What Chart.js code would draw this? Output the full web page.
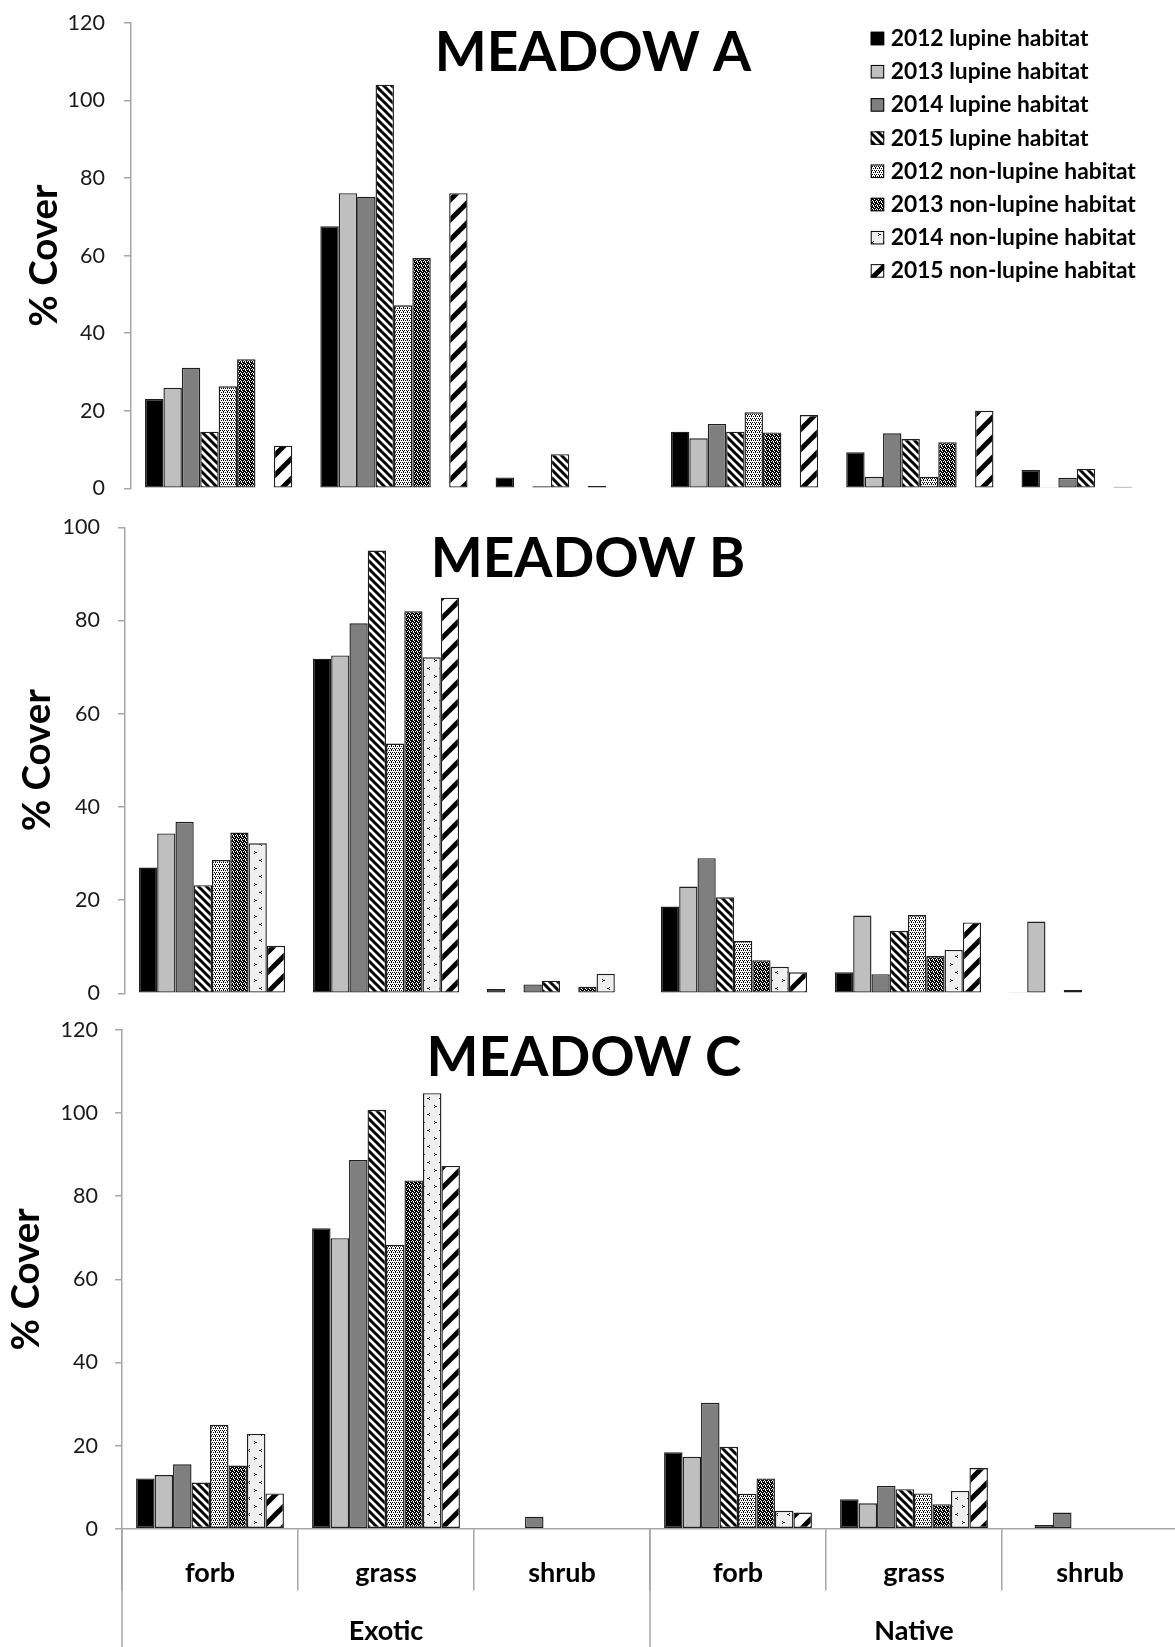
<!DOCTYPE html>
<html>
<head>
<meta charset="utf-8">
<title>Plant cover by meadow</title>
<script src="https://cdn.jsdelivr.net/npm/chart.js@4/dist/chart.umd.min.js"></script>
<style>
  html, body { margin: 0; padding: 0; background: #fff; overflow: hidden; }
  #wrap { position: relative; width: 1175px; height: 1647px; overflow: hidden; background: #fff; }
  #wrap canvas { position: absolute; left: 0; }
</style>
</head>
<body>
<div id="wrap">
  <canvas id="meadowA" width="1190" height="532" style="top:-10px"></canvas>
  <canvas id="meadowB" width="1190" height="546" style="top:480px"></canvas>
  <canvas id="meadowC" width="1190" height="657" style="top:990px"></canvas>
</div>
<script>
// ---- data -----------------------------------------------------------
const categories = ['forb', 'grass', 'shrub', 'forb', 'grass', 'shrub'];
const groups = ['Exotic', 'Native'];
const seriesLabels = [
  '2012 lupine habitat', '2013 lupine habitat', '2014 lupine habitat', '2015 lupine habitat',
  '2012 non-lupine habitat', '2013 non-lupine habitat', '2014 non-lupine habitat', '2015 non-lupine habitat'
];
const yTicksA = [0, 20, 40, 60, 80, 100, 120];
const yTicksB = [0, 20, 40, 60, 80, 100];
const yTicksC = [0, 20, 40, 60, 80, 100, 120];

// Meadow A (% cover)
const aLupine2012 = [23.0, 67.6, 2.8, 14.6, 9.3, 4.7];
const aLupine2013 = [25.9, 76.1, 0, 12.9, 3.0, 0.3];
const aLupine2014 = [31.1, 75.2, 0.5, 16.6, 14.2, 2.7];
const aLupine2015 = [14.6, 104.1, 8.8, 14.6, 12.7, 5.0];
const aNon2012 = [26.3, 47.2, 0, 19.6, 3.0, 0];
const aNon2013 = [33.3, 59.4, 0.6, 14.4, 11.9, 0.4];
const aNon2014 = [null, null, null, null, null, null];
const aNon2015 = [11.0, 76.1, 0, 18.9, 20.0, 0];

// Meadow B (% cover)
const bLupine2012 = [27.0, 71.8, 0.9, 18.6, 4.5, 0.1];
const bLupine2013 = [34.3, 72.5, 0, 22.9, 16.7, 15.4];
const bLupine2014 = [36.8, 79.4, 1.9, 29.0, 4.1, 0];
const bLupine2015 = [23.2, 95.0, 2.7, 20.6, 13.4, 0.7];
const bNon2012 = [28.6, 53.6, 0, 11.2, 16.8, 0];
const bNon2013 = [34.5, 82.0, 1.4, 7.1, 8.0, 0];
const bNon2014 = [32.2, 72.1, 4.2, 5.7, 9.3, 0];
const bNon2015 = [10.2, 84.9, 0, 4.5, 15.2, 0];

// Meadow C (% cover)
const cLupine2012 = [12.1, 72.3, 0, 18.4, 7.1, 0];
const cLupine2013 = [12.9, 69.9, 0, 17.3, 6.1, 0.9];
const cLupine2014 = [15.5, 88.7, 2.9, 30.3, 10.3, 3.9];
const cLupine2015 = [11.1, 100.8, 0, 19.7, 9.5, 0];
const cNon2012 = [25.0, 68.3, 0, 8.4, 8.5, 0];
const cNon2013 = [15.2, 83.8, 0, 12.1, 5.9, 0];
const cNon2014 = [22.8, 104.8, 0, 4.3, 9.1, 0];
const cNon2015 = [8.5, 87.3, 0, 3.9, 14.6, 0];

// ---- fills ----------------------------------------------------------
const AXIS_GREY = '#a6a6a6';
const FONT = 'Lato, "Open Sans", sans-serif';

function tile(w, h, paint) {
  const c = document.createElement('canvas');
  c.width = w; c.height = h;
  const g = c.getContext('2d');
  paint(g, w, h);
  return g.createPattern(c, 'repeat');
}
function pixelTile(rows, fg, bg) {
  return tile(rows[0].length, rows.length, (g, w, h) => {
    g.fillStyle = bg; g.fillRect(0, 0, w, h);
    g.fillStyle = fg;
    rows.forEach((r, y) => [...r].forEach((ch, x) => { if (ch === 'X') g.fillRect(x, y, 1, 1); }));
  });
}
function stripeTile(n, width, dir) {
  return tile(n, n, (g) => {
    g.fillStyle = '#fff'; g.fillRect(0, 0, n, n);
    g.strokeStyle = '#000'; g.lineWidth = width;
    for (let k = -2; k <= 2; k++) {
      g.beginPath();
      if (dir === 'down') { g.moveTo(k * n - n, -n); g.lineTo(k * n + 2 * n, 2 * n); }
      else { g.moveTo(k * n - n, 2 * n); g.lineTo(k * n + 2 * n, -n); }
      g.stroke();
    }
  });
}

const fills = [
  '#000000',
  '#bfbfbf',
  '#7f7f7f',
  stripeTile(8, 3, 'down'),
  pixelTile(['X.X.', '...X', '.X.X', '....'], '#000', '#fff'),
  pixelTile(['X.XX', 'XX.X', '.XXX', 'X.X.'], '#000', '#fff'),
  pixelTile([
    '............',
    '............',
    '............',
    '..X.........',
    '...XX.......',
    '..X.........',
    '............',
    '............',
    '............',
    '............',
    '............',
    '.........X..',
    '.......XX...',
    '.........X..',
    '............',
    '............'
  ], '#111', '#efefef'),
  stripeTile(20, 5, 'up')
];

function buildDatasets(values) {
  return values.map((v, i) => ({
    label: seriesLabels[i],
    data: v,
    backgroundColor: fills[i],
    borderColor: '#1f1f1f',
    borderWidth: 1.4,
    borderSkipped: false,
    inflateAmount: 0,
    barPercentage: 1,
    categoryPercentage: 0.84
  }));
}

// ---- plugins --------------------------------------------------------
const panelTitle = {
  id: 'panelTitle',
  afterDraw(chart, args, opts) {
    if (!opts.text) return;
    const ctx = chart.ctx;
    ctx.save();
    ctx.font = 'bold 55px ' + FONT;
    ctx.fillStyle = '#000';
    ctx.textAlign = 'center';
    ctx.textBaseline = 'alphabetic';
    ctx.fillText(opts.text, opts.x, opts.y);
    ctx.restore();
  }
};

const seriesKey = {
  id: 'seriesKey',
  afterDraw(chart, args, opts) {
    if (!opts.show) return;
    const ctx = chart.ctx;
    ctx.save();
    chart.data.datasets.forEach((ds, i) => {
      const cy = opts.y0 + i * opts.step;
      ctx.fillStyle = ds.backgroundColor;
      ctx.fillRect(opts.x, cy - opts.box / 2, opts.box, opts.box);
      ctx.strokeStyle = '#000';
      ctx.lineWidth = 1;
      ctx.strokeRect(opts.x + 0.5, cy - opts.box / 2 + 0.5, opts.box - 1, opts.box - 1);
      ctx.fillStyle = '#000';
      ctx.font = 'bold 22.8px ' + FONT;
      ctx.textAlign = 'left';
      ctx.textBaseline = 'alphabetic';
      ctx.fillText(ds.label, opts.textX, cy + 7.5);
    });
    ctx.restore();
  }
};

const groupAxis = {
  id: 'groupAxis',
  afterDraw(chart, args, opts) {
    if (!opts.show) return;
    const xs = chart.scales.x, ca = chart.chartArea, ctx = chart.ctx;
    const cut = (xs.getPixelForValue(2) + xs.getPixelForValue(3)) / 2;
    ctx.save();
    ctx.strokeStyle = AXIS_GREY;
    ctx.lineWidth = 1.5;
    [ca.left, cut, ca.right].forEach((x) => {
      ctx.beginPath();
      ctx.moveTo(x, ca.bottom);
      ctx.lineTo(x, chart.height);
      ctx.stroke();
    });
    ctx.fillStyle = '#000';
    ctx.font = 'bold 27px ' + FONT;
    ctx.textAlign = 'center';
    ctx.textBaseline = 'alphabetic';
    groups.forEach((g, i) => ctx.fillText(g, xs.getPixelForValue(i * 3 + 1), opts.y));
    ctx.restore();
  }
};

Chart.register(panelTitle, seriesKey, groupAxis);

// ---- chart factory --------------------------------------------------
function makePanel(id, values, cfg) {
  const ticks = cfg.ticks;
  return new Chart(document.getElementById(id), {
    type: 'bar',
    data: { labels: categories, datasets: buildDatasets(values) },
    options: {
      responsive: false,
      animation: false,
      devicePixelRatio: 1,
      events: [],
      layout: { padding: { left: 0, top: cfg.padTop, right: cfg.padRight, bottom: cfg.padBottom } },
      plugins: {
        legend: { display: false },
        tooltip: { enabled: false },
        panelTitle: { text: cfg.title, x: cfg.titleX, y: cfg.titleY },
        seriesKey: cfg.key ? { show: true, x: 870.7, textX: 890.7, y0: cfg.keyY0, step: 33.2, box: 13.5 } : { show: false },
        groupAxis: { show: !!cfg.axisLabels, y: cfg.groupY }
      },
      scales: {
        x: cfg.axisLabels ? {
          grid: { offset: true, drawOnChartArea: false, tickLength: 62, color: AXIS_GREY, lineWidth: 1.5 },
          border: { color: AXIS_GREY, width: 1.5 },
          ticks: { padding: -34, color: '#000', maxRotation: 0, autoSkip: false,
                   font: { family: FONT, size: 27, weight: 'bold' } },
          afterFit: (s) => { s.height = 118.3; }
        } : { display: false },
        y: {
          min: ticks[0],
          max: ticks[ticks.length - 1],
          afterBuildTicks: (s) => { s.ticks = ticks.map((v) => ({ value: v })); },
          ticks: { padding: cfg.tickPad, color: '#1a1a1a', font: { family: FONT, size: 21.5 } },
          grid: { drawOnChartArea: false, tickLength: 7, color: AXIS_GREY, lineWidth: 1.5 },
          border: { color: AXIS_GREY, width: 1.5 },
          title: { display: true, text: '% Cover', color: '#000',
                   font: { family: FONT, size: 38.5, weight: 'bold' },
                   padding: { top: cfg.titlePad, bottom: 0 } },
          afterFit: (s) => { s.width = cfg.axisW; }
        }
      }
    }
  });
}

// canvas A starts at page y = -10, B at 480, C at 990
makePanel('meadowA',
  [aLupine2012, aLupine2013, aLupine2014, aLupine2015, aNon2012, aNon2013, aNon2014, aNon2015],
  { ticks: yTicksA, padTop: 33, padBottom: 33.7, padRight: 7.2, axisW: 131, tickPad: 19, titlePad: 21,
    title: 'MEADOW A', titleX: 593, titleY: 81, key: true, keyY0: 48.5 });

makePanel('meadowB',
  [bLupine2012, bLupine2013, bLupine2014, bLupine2015, bNon2012, bNon2013, bNon2014, bNon2015],
  { ticks: yTicksB, padTop: 47.3, padBottom: 32.7, padRight: 21, axisW: 125, tickPad: 18, titlePad: 14,
    title: 'MEADOW B', titleX: 588, titleY: 97 });

makePanel('meadowC',
  [cLupine2012, cLupine2013, cLupine2014, cLupine2015, cNon2012, cNon2013, cNon2014, cNon2015],
  { ticks: yTicksC, padTop: 40, padBottom: 0, padRight: 12, axisW: 122, tickPad: 17, titlePad: 3,
    title: 'MEADOW C', titleX: 584, titleY: 86, axisLabels: true, groupY: 650 });
</script>
</body>
</html>
